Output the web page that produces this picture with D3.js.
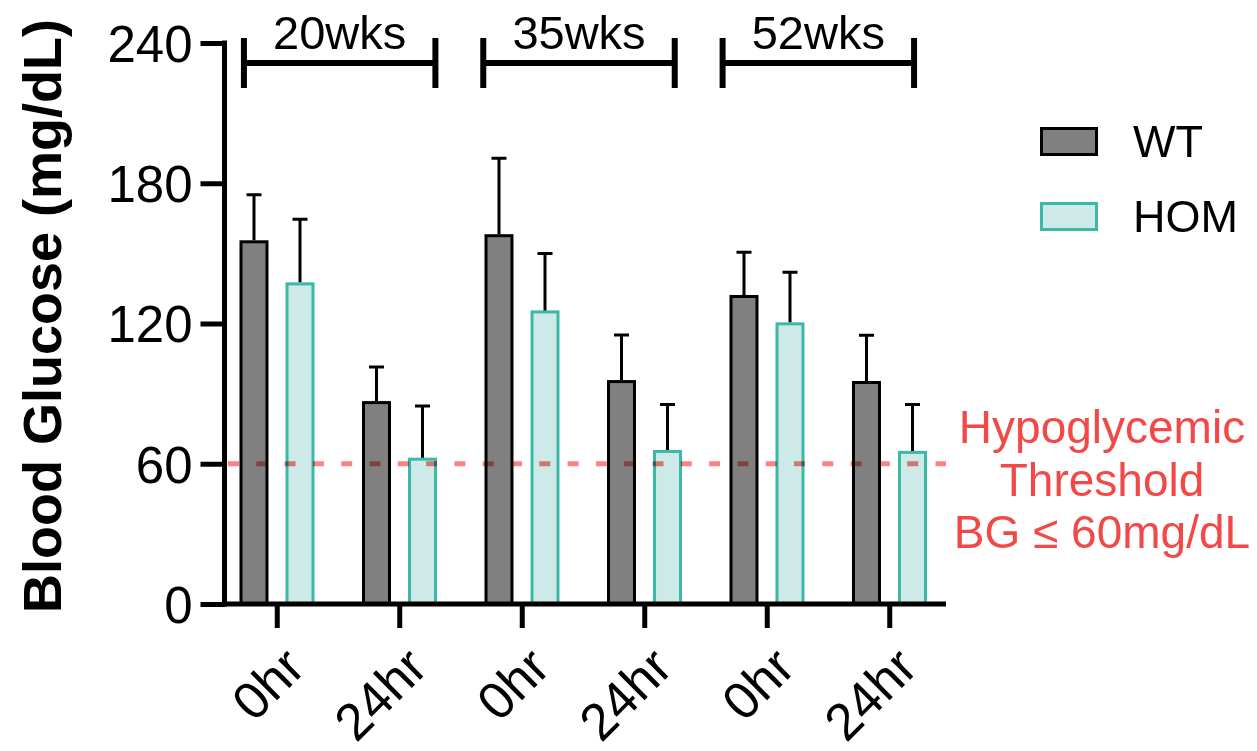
<!DOCTYPE html>
<html>
<head>
<meta charset="utf-8">
<script src="https://cdn.jsdelivr.net/npm/d3@7"></script>
<style>
  html, body { margin: 0; padding: 0; background: #fff; }
  svg { display: block; font-family: "Liberation Sans", Arial, sans-serif; }
</style>
</head>
<body>
<div id="chart"></div>
<script>
// Chart data
const timepoints = ["0hr", "24hr", "0hr", "24hr", "0hr", "24hr"];
const weeks = ["20wks", "35wks", "52wks"];
const seriesNames = ["WT", "HOM"];
const wtMean = [155.6, 86.8, 158.2, 95.8, 132.2, 95.4];
const wtSD = [19.5, 14.6, 32.5, 19.3, 18.3, 19.6];
const homMean = [137.6, 62.6, 125.6, 65.9, 120.5, 65.5];
const homSD = [27.0, 22.1, 24.4, 19.5, 21.4, 19.8];
const yTicks = [0, 60, 120, 180, 240];
const threshold = 60;
const thresholdLines = ["Hypoglycemic", "Threshold", "BG \u2264 60mg/dL"];

const colors = {
  WT: { fill: "#808080", stroke: "#000000" },
  HOM: { fill: "#cdeae8", stroke: "#3cb8a8" }
};

function drawChart() {
  const width = 1257, height = 751;

  const svg = d3.select("#chart")
    .append("svg")
    .attr("width", width)
    .attr("height", height);

  // Scales
  const y = d3.scaleLinear().domain([0, 240]).range([604, 43]);
  const x0 = d3.scaleBand().domain(d3.range(timepoints.length)).range([216, 951]);
  const x1 = d3.scaleBand().domain(seriesNames).range([23.5, 98.5]).paddingInner(0.37);
  // brackets over each pair of groups
  const xw = d3.scaleBand().domain(weeks).range([220, 938]).paddingInner(0.2).paddingOuter(0.1);

  const rows = timepoints.map((t, i) => ({
    i: i,
    values: [
      { key: "WT", mean: wtMean[i], sd: wtSD[i] },
      { key: "HOM", mean: homMean[i], sd: homSD[i] }
    ]
  }));

  // Bars
  const groups = svg.append("g")
    .selectAll("g")
    .data(rows)
    .join("g")
    .attr("transform", d => "translate(" + x0(d.i) + ",0)");

  groups.selectAll("rect")
    .data(d => d.values)
    .join("rect")
    .attr("x", d => x1(d.key) + 1.5)
    .attr("y", d => y(d.mean) + 1.5)
    .attr("width", x1.bandwidth() - 3)
    .attr("height", d => y(0) - y(d.mean) - 1.5)
    .attr("fill", d => colors[d.key].fill)
    .attr("stroke", d => colors[d.key].stroke)
    .attr("stroke-width", 3);

  // Error bars (upper only)
  groups.selectAll("path.err")
    .data(d => d.values)
    .join("path")
    .attr("class", "err")
    .attr("fill", "none")
    .attr("stroke", "#000")
    .attr("stroke-width", 3)
    .attr("d", d => {
      const cx = x1(d.key) + x1.bandwidth() / 2;
      const top = y(d.mean + d.sd);
      return "M" + cx + "," + y(d.mean) + "V" + top + "M" + (cx - 7.5) + "," + top + "H" + (cx + 7.5);
    });

  // Threshold dashed line
  svg.append("line")
    .attr("x1", 228)
    .attr("x2", 946)
    .attr("y1", y(threshold))
    .attr("y2", y(threshold))
    .attr("stroke", "#ff8282")
    .attr("stroke-width", 5)
    .attr("stroke-dasharray", "11,17.3")
    .style("mix-blend-mode", "multiply");

  // Y axis
  const yAxis = d3.axisLeft(y).tickValues(yTicks).tickSize(24).tickPadding(8);
  const gy = svg.append("g")
    .attr("transform", "translate(224.5,0)")
    .call(yAxis);
  gy.select(".domain").attr("d", "M0," + (y(240) - 2.5) + "V" + (y(0) + 2.5)).attr("stroke-width", 5);
  gy.selectAll(".tick line").attr("stroke-width", 5);
  gy.selectAll(".tick text").attr("font-size", 51).attr("fill", "#000").attr("dy", "0.36em");

  // X axis
  const xAxis = d3.axisBottom(x0).tickFormat(i => timepoints[i]).tickSize(24).tickPadding(0);
  const gx = svg.append("g")
    .attr("transform", "translate(0,604)")
    .call(xAxis);
  gx.select(".domain").attr("d", "M222,0H946").attr("stroke-width", 5);
  gx.selectAll(".tick line").attr("stroke-width", 5);
  gx.selectAll(".tick text")
    .attr("font-size", 52)
    .attr("fill", "#000")
    .attr("text-anchor", "end")
    .attr("dy", 0)
    .attr("y", 0)
    .attr("transform", "translate(30,66) rotate(-45)");

  // Y axis title
  svg.append("text")
    .attr("transform", "translate(61,316) rotate(-90)")
    .attr("text-anchor", "middle")
    .attr("font-size", 54)
    .attr("font-weight", "bold")
    .text("Blood Glucose (mg/dL)");

  // Week brackets
  weeks.forEach(w => {
    const left = xw(w);
    const right = xw(w) + xw.bandwidth();
    const by = 63;
    svg.append("path")
      .attr("d", "M" + left + "," + (by - 25) + "V" + (by + 25) +
                 "M" + left + "," + by + "H" + right +
                 "M" + right + "," + (by - 25) + "V" + (by + 25))
      .attr("fill", "none")
      .attr("stroke", "#000")
      .attr("stroke-width", 6);
    svg.append("text")
      .attr("x", (left + right) / 2)
      .attr("y", 49)
      .attr("text-anchor", "middle")
      .attr("font-size", 47)
      .text(w);
  });

  // Legend
  const legend = svg.append("g");
  seriesNames.forEach((s, i) => {
    const ly = 127 + i * 75;
    legend.append("rect")
      .attr("x", 1041.5)
      .attr("y", ly + 1.5)
      .attr("width", 55)
      .attr("height", 26)
      .attr("fill", colors[s].fill)
      .attr("stroke", colors[s].stroke)
      .attr("stroke-width", 3);
    legend.append("text")
      .attr("x", 1133)
      .attr("y", ly + 30)
      .attr("font-size", 45)
      .text(s);
  });

  // Threshold annotation
  svg.append("text")
    .attr("x", 1102)
    .attr("y", 443)
    .attr("text-anchor", "middle")
    .attr("font-size", 46)
    .attr("fill", "#f24848")
    .selectAll("tspan")
    .data(thresholdLines)
    .join("tspan")
    .attr("x", 1102)
    .attr("dy", (d, i) => i === 0 ? 0 : 52.5)
    .text(d => d);
}

drawChart();
</script>
</body>
</html>
